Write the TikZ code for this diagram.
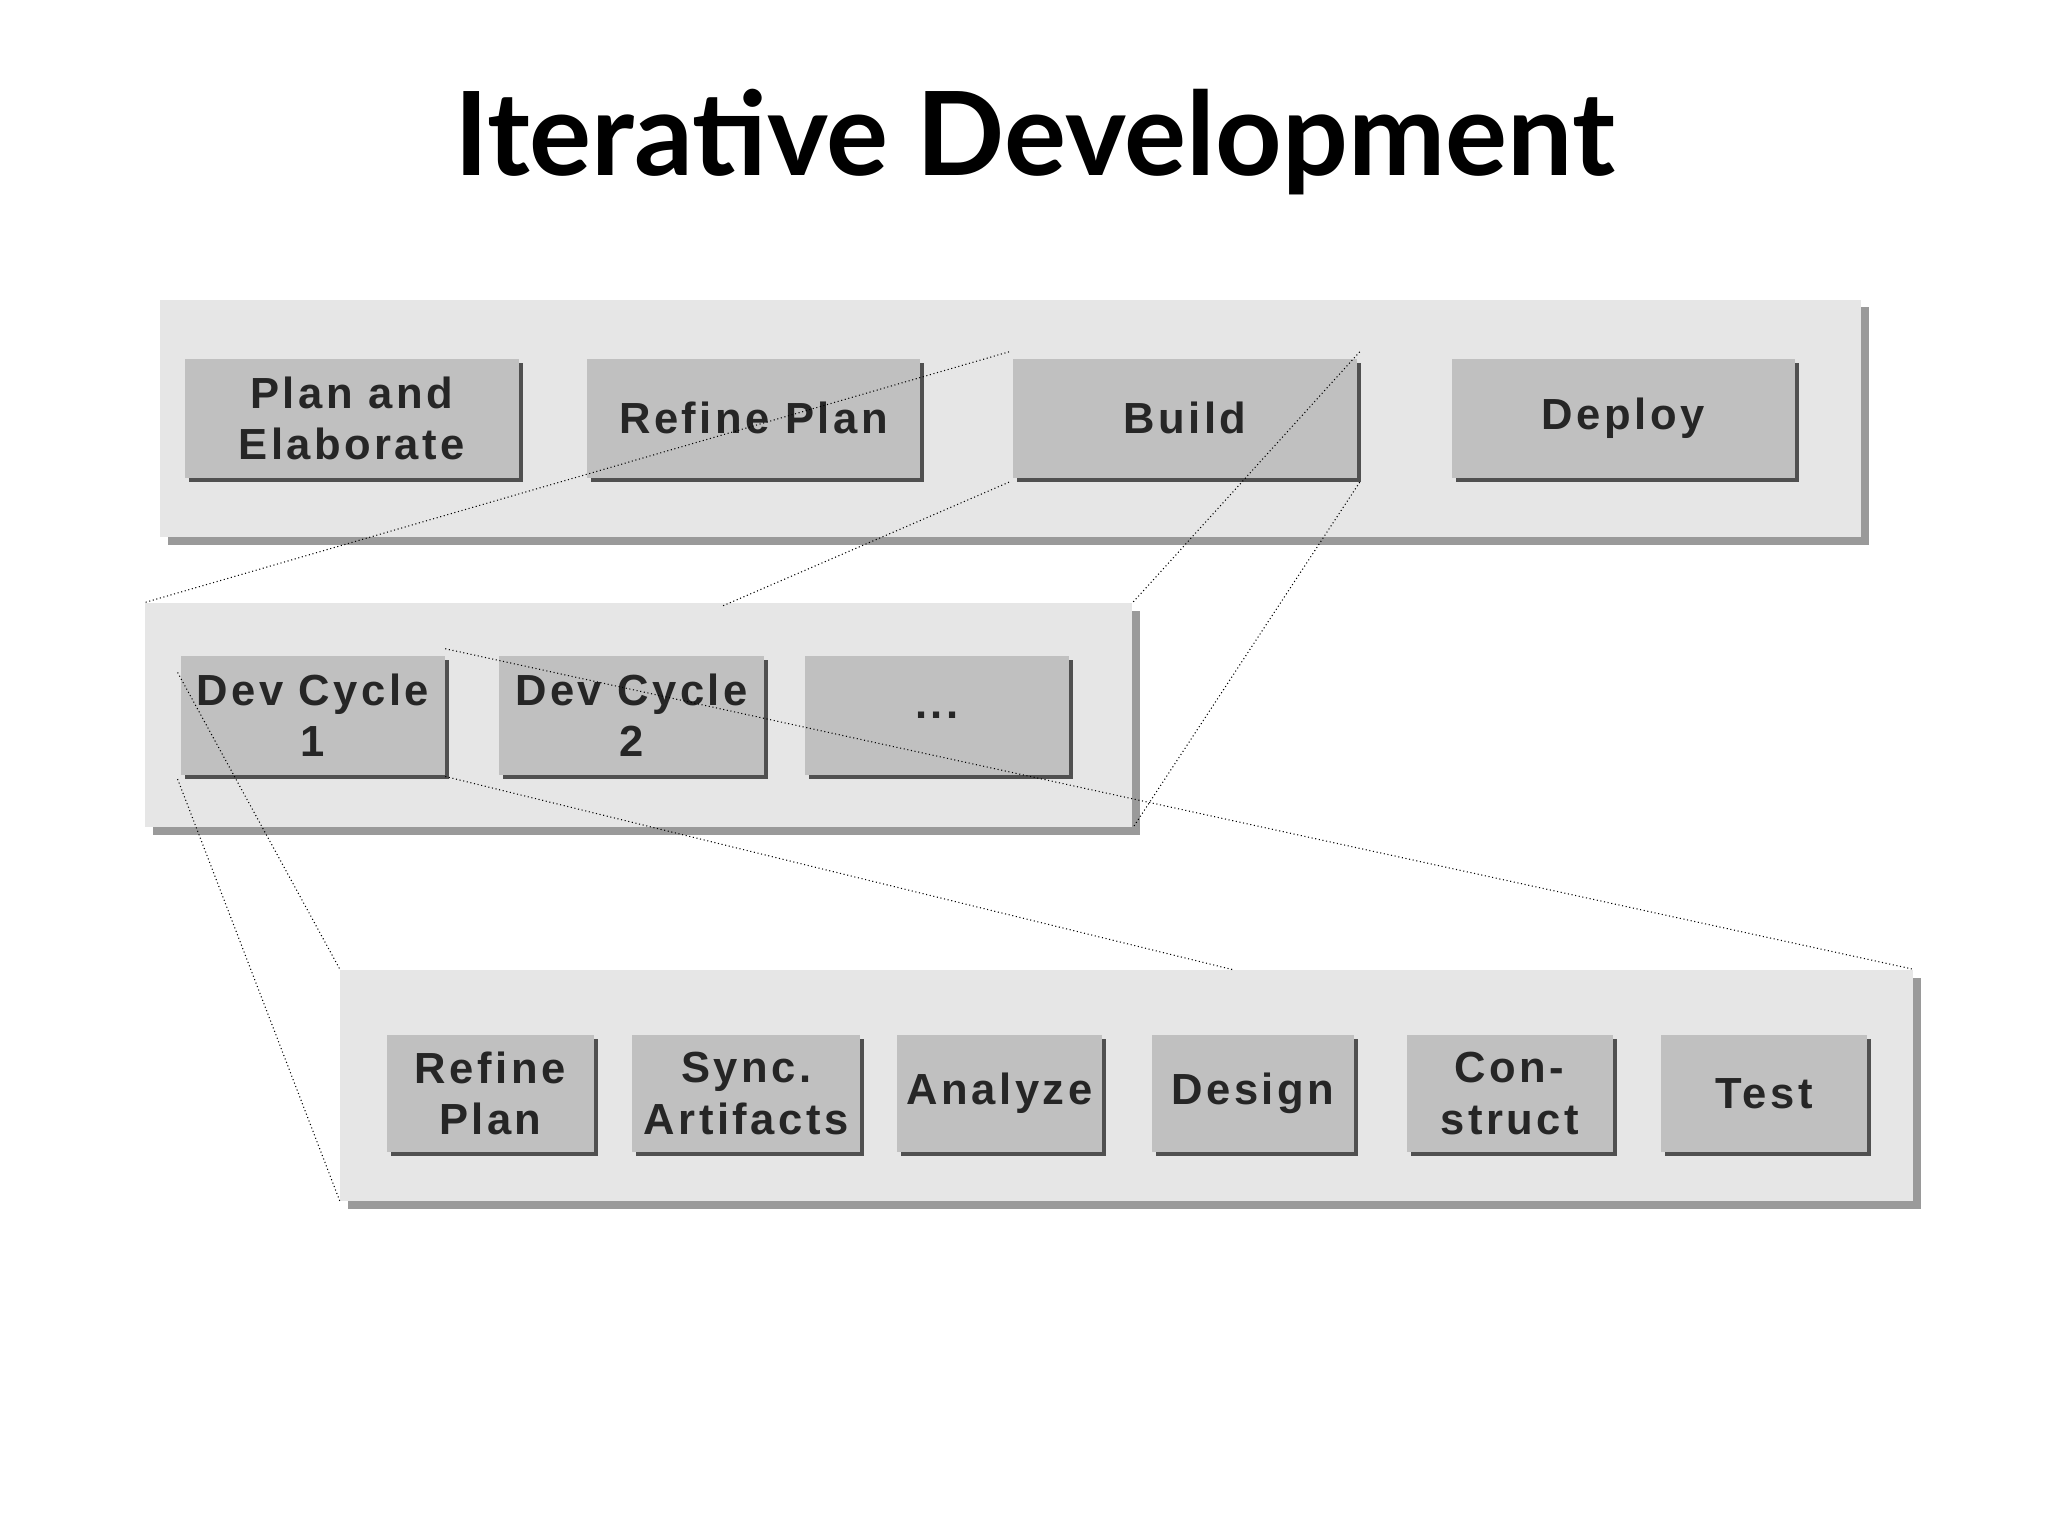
\documentclass[tikz,border=0pt]{standalone}
\usepackage{fontspec}
\setmainfont{Liberation Sans}
\newfontfamily\titlefont{Lato}
\newfontfamily\boxfont[LetterSpace=8]{Liberation Sans}
\usetikzlibrary{shadows}
\definecolor{panelc}{HTML}{E6E6E6}
\definecolor{panelsh}{HTML}{9A9A9A}
\definecolor{boxc}{HTML}{C0C0C0}
\definecolor{boxsh}{HTML}{505050}
\tikzset{
 panel/.style={fill=panelc, inner sep=0pt, general shadow={fill=panelsh, shadow xshift=3pt, shadow yshift=-3pt}},
 bx/.style={fill=boxc, inner sep=0pt, align=center, minimum height=45pt, text=black!85,
   font=\boxfont\bfseries\fontsize{16.5}{19.5}\selectfont,
   general shadow={fill=boxsh, shadow xshift=1.5pt, shadow yshift=-1.5pt}},
 zoom/.style={densely dotted, line width=0.4pt, black}
}
\begin{document}
\begin{tikzpicture}[x=0.5pt,y=-0.5pt]
\useasboundingbox[fill=white] (0,0) rectangle (1552,1164);
\node[font=\titlefont\bfseries\fontsize{44}{50}\selectfont] (title) at (784,108) {Iterative Development};
% panels
\node[panel, minimum width=644.5pt, minimum height=90pt] (top) at (765.5,317) {};
\node[panel, minimum width=374pt, minimum height=85pt] (mid) at (484,542) {};
\node[panel, minimum width=596pt, minimum height=87.5pt] (bot) at (854,822.5) {};
% top boxes
\node[bx, minimum width=126.5pt] (pe) at (266.5,317) {Plan and\\Elaborate};
\node[bx, minimum width=126pt] (rp) at (571,317) {Refine Plan};
\node[bx, minimum width=130pt] (build) at (898,317) {Build};
\node[bx, minimum width=130pt] (deploy) at (1230,317) {Deploy};
% middle boxes
\node[bx, minimum width=100pt] (dc1) at (237,542) {Dev Cycle\\1};
\node[bx, minimum width=100.5pt] (dc2) at (478.5,542) {Dev Cycle\\2};
\node[bx, minimum width=100pt] (dots) at (710,542) {...};
% bottom boxes
\node[bx, minimum width=78.5pt, minimum height=44.5pt] (rp2) at (371.5,828.5) {Refine\\Plan};
\node[bx, minimum width=86.5pt, minimum height=44.5pt] (sync) at (565.5,828.5) {Sync.\\Artifacts};
\node[bx, minimum width=77.5pt, minimum height=44.5pt] (an) at (757.5,828.5) {Analyze};
\node[bx, minimum width=76.5pt, minimum height=44.5pt] (des) at (949.5,828.5) {Design};
\node[bx, minimum width=78pt, minimum height=44.5pt] (con) at (1144,828.5) {Con-\\struct};
\node[bx, minimum width=78pt, minimum height=44.5pt] (test) at (1337,828.5) {Test};
% zoom lines
\coordinate (bnw) at ([shift={(-3,-5)}]build.north west);
\coordinate (bsw) at ([shift={(-3,3)}]build.south west);
\coordinate (bne) at ([shift={(2,-5)}]build.north east);
\coordinate (bse) at ([shift={(2,3)}]build.south east);
\coordinate (midtop) at (548,459);
\coordinate (c1nw) at ([shift={(-2,13)}]dc1.north west);
\coordinate (c1sw) at ([shift={(-2,3)}]dc1.south west);
\coordinate (c1ne) at ([shift={(0,-5)}]dc1.north east);
\coordinate (c1se) at ([shift={(0,1)}]dc1.south east);
\coordinate (bottop) at (935,735);
\draw[zoom] (bnw) -- (mid.north west);
\draw[zoom] (bsw) -- (midtop);
\draw[zoom] (bne) -- (mid.north east);
\draw[zoom] (bse) -- (mid.south east);
\draw[zoom] (c1nw) -- (bot.north west);
\draw[zoom] (c1sw) -- (bot.south west);
\draw[zoom] (c1ne) -- (bot.north east);
\draw[zoom] (c1se) -- (bottop);
\end{tikzpicture}
\end{document}
